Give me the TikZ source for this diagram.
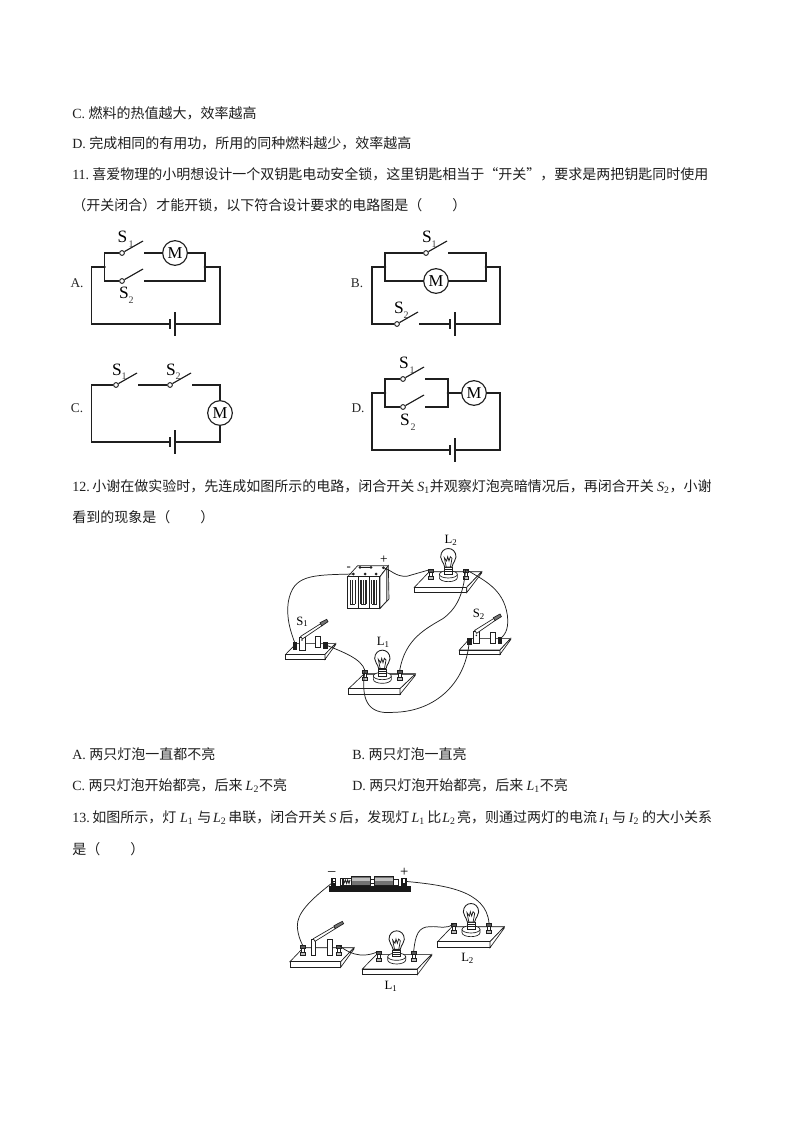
\documentclass[tikz,border=0pt]{standalone}
\usepackage{fontspec}
\setmainfont{Noto Sans CJK SC}
\newfontfamily\lat{Liberation Serif}
\newcommand{\la}[1]{{\lat #1}}
\newcommand{\iv}[2]{{\lat\itshape #1\textsubscript{\upshape #2}}}
\newcommand{\fb}[2]{\makebox[#1pt][c]{#2}}
\newcommand{\fl}[2]{\makebox[#1pt][l]{#2}}
\tikzset{
  x=.75pt,y=-.75pt,
  txt/.style={anchor=base west,inner sep=0pt,font=\fontsize{10.5pt}{12pt}\selectfont,text=black!88},
  wire/.style={line width=.85pt,black!88},
  thin wire/.style={line width=.55pt,black!88},
  motor/.style={circle,draw=black!88,line width=.85pt,minimum size=18.5pt,inner sep=0pt,fill=white,font=\lat\fontsize{12.5pt}{12pt}\selectfont},
  contact/.style={circle,draw=black!88,line width=.7pt,minimum size=3.6pt,inner sep=0pt,fill=white},
  dotj/.style={circle,fill=black!88,minimum size=2.2pt,inner sep=0pt},
  sym/.style={inner sep=0pt,font=\lat\fontsize{13pt}{13pt}\selectfont},
  symsub/.style={inner sep=0pt,font=\lat\fontsize{7.5pt}{8pt}\selectfont,text=black!75},
  opt/.style={inner sep=0pt,font=\lat\fontsize{10pt}{10pt}\selectfont,text=black!85},
  plab/.style={inner sep=0pt,font=\lat\fontsize{9.5pt}{10pt}\selectfont},
  pe/.style={line width=.5pt,black!88},
  pback/.style={line width=.9pt,black!65},
}
% switch symbol: name, x, y
\newcommand{\symsw}[3]{%
  \node[contact] (#1) at (#2,#3) {};
  \coordinate (#1-o) at ($(#1)+(22,0)$);
  \coordinate (#1-t) at ($(#1)+(21,-12)$);
  \draw[wire] (#1) -- (#1-t);
}
% battery symbol: name, x of short plate, y
\newcommand{\symbatt}[3]{%
  \coordinate (#1-l) at (#2,#3);
  \coordinate (#1-r) at ($(#2,#3)+(5,0)$);
  \draw[wire,line width=1.2pt] ($(#1-l)+(0,-5)$) -- ($(#1-l)+(0,5)$);
  \draw[wire] ($(#1-r)+(0,-12)$) -- ($(#1-r)+(0,12)$);
}
% board: front-left x, front y, width, dx, dy, height
\newcommand{\board}[6]{%
  \draw[pe,fill=white] (#1,#2) -- ++(#4,-#5) -- ++(#3,0) -- ++(-#4,#5) -- cycle;
  \draw[pe,fill=white] (#1,#2) rectangle ++(#3,#6);
  \draw[pe,fill=white] (#1,#2) ++(#3,0) -- ++(#4,-#5) -- ++(0,4) -- ++(-#4,#5+#6-4) -- cycle;
  \draw[pback] (#1,#2) ++(#4,-#5) -- ++(#3,0);
}
% post terminal: name, x, y (top centre)
\newcommand{\term}[3]{%
  \coordinate (#1) at (#2,#3);
  \draw[pe,fill=white] ($(#1)+(-5,3)$) rectangle ($(#1)+(5,30)$);
  \draw[pe,fill=black!65] ($(#1)+(-7,0)$) rectangle ($(#1)+(7,9)$);
  \draw[pe,fill=black!25] ($(#1)+(-8,21)$) rectangle ($(#1)+(8,30)$);
}
% bulb: centre x, y of glass
\newcommand{\bulb}[2]{%
  \begin{scope}[shift={(#1,#2)}]
    \draw[pe,fill=white] (-27,50) -- (-27,60) arc[start angle=180,end angle=360,x radius=6.75pt,y radius=3pt] -- (27,50);
    \draw[pe,fill=white] (0,50) ellipse [x radius=6.75pt,y radius=2.75pt];
    \draw[pe,fill=white] (-12,30) rectangle (12,50);
    \draw[line width=.65pt,black!88,fill=white] (-11,28) .. controls (-14,12) and (-23,10) .. (-23,-2) .. controls (-23,-36) and (23,-36) .. (23,-2) .. controls (23,10) and (14,12) .. (11,28) -- cycle;
    \draw[line width=.55pt,black!88] (-6,30) -- (-12,0) -- (-5,10) -- (-2,-3) -- (2,10) -- (6,-3) -- (11,2) -- (6,30);
    \draw[pe] (-11,36) -- (11,36) (-11,42) -- (11,42);
  \end{scope}
}
\usetikzlibrary{calc}
\begin{document}
\begin{tikzpicture}
\useasboundingbox[fill=white] (0,0) rectangle (794,1123);
% ---- text
\node[txt] (t1) at (72,119) {\la{C. }燃料的热值越大，效率越高};
\node[txt] (t2) at (72,149) {\la{D. }完成相同的有用功，所用的同种燃料越少，效率越高};
\node[txt] (t3) at (72,180) {\fl{15}{\la{11.}}喜爱物理的小明想设计一个双钥匙电动安全锁，这里钥匙相当于“开关”，要求是两把钥匙同时使用};
\node[txt] (t4) at (72,210) {（开关闭合）才能开锁，以下符合设计要求的电路图是（\hspace{22.5pt}）};
\node[txt] (t5) at (72,491) {\fl{15}{\la{12.}}小谢在做实验时，先连成如图所示的电路，闭合开关 \iv{S}{1}并观察灯泡亮暗情况后，再闭合开关 \iv{S}{2}，小谢};
\node[txt] (t6) at (72,522) {看到的现象是（\hspace{22.5pt}）};
\node[txt] (t7) at (72,759) {\la{A. }两只灯泡一直都不亮};
\node[txt] (t8) at (352,759) {\la{B. }两只灯泡一直亮};
\node[txt] (t9) at (72,790) {\la{C. }两只灯泡开始都亮，后来 \iv{L}{2}不亮};
\node[txt] (t10) at (352,790) {\la{D. }两只灯泡开始都亮，后来 \iv{L}{1}不亮};
\node[txt] (t11) at (72,822) {\fl{15}{\la{13.}}如图所示，灯\fb{15.75}{\iv{L}{1}}与\fb{12.75}{\iv{L}{2}}串联，闭合开关\fb{9.75}{{\lat\itshape S}}后，发现灯\fb{13.5}{\iv{L}{1}}比\fb{11.8}{\iv{L}{2}}亮，则通过两灯的电流\fb{11.25}{\iv{I}{1}}与\fb{12}{\iv{I}{2}}的大小关系};
\node[txt] (t12) at (72,854) {是（\hspace{22.5pt}）};

% ---- circuit A
\node[motor] (ma) at (175,253) {M};
\symsw{sa1}{122}{253}
\symsw{sa2}{122}{281}
\symbatt{ba}{170}{324}
\coordinate (a-jl) at (104.5,267); \coordinate (a-jr) at (205,267);
\coordinate (a-cl) at (91.5,267); \coordinate (a-cr) at (220,267);
\node[dotj] (a-dl) at (a-jl) {}; \node[dotj] (a-dr) at (a-jr) {};
\draw[wire] (sa1) -| (a-jl) |- (sa2);
\draw[wire] (sa1-o) -- (ma) -| (a-jr) |- (sa2-o);
\draw[wire] (a-jl) -- (a-cl) |- (ba-l);
\draw[wire] (a-jr) -- (a-cr) |- (ba-r);
\node[sym] (las1) at (122.5,237) {S}; \node[symsub] (las1s) at (131,244) {1};
\node[sym] (las2) at (124,293) {S}; \node[symsub] (las2s) at (131,300) {2};
\node[opt] (la) at (77,283) {A.};

% ---- circuit B
\node[motor] (mb) at (436,281) {M};
\symsw{sb1}{426}{253}
\symsw{sb2}{397}{324}
\symbatt{bb}{450}{324}
\coordinate (b-jl) at (385,267); \coordinate (b-jr) at (486,267);
\coordinate (b-cl) at (372,267); \coordinate (b-cr) at (500,267);
\node[dotj] (b-dl) at (b-jl) {}; \node[dotj] (b-dr) at (b-jr) {};
\draw[wire] (sb1) -| (b-jl) |- (mb);
\draw[wire] (sb1-o) -| (b-jr) |- (mb);
\draw[wire] (b-jl) -- (b-cl) |- (sb2);
\draw[wire] (sb2-o) -- (bb-l);
\draw[wire] (b-jr) -- (b-cr) |- (bb-r);
\node[sym] (lbs1) at (427,237) {S}; \node[symsub] (lbs1s) at (434,244) {1};
\node[sym] (lbs2) at (399,308) {S}; \node[symsub] (lbs2s) at (406,315) {2};
\node[opt] (lb) at (357,283) {B.};

% ---- circuit C
\node[motor] (mc) at (220,413) {M};
\symsw{sc1}{116}{385}
\symsw{sc2}{170}{385}
\symbatt{bc}{170}{442}
\coordinate (c-tl) at (91.5,385); \coordinate (c-tr) at (220,385);
\draw[wire] (sc1) -- (c-tl) |- (bc-l);
\draw[wire] (sc1-o) -- (sc2);
\draw[wire] (sc2-o) -- (c-tr) -- (mc);
\draw[wire] (mc) |- (bc-r);
\node[sym] (lcs1) at (117,370) {S}; \node[symsub] (lcs1s) at (124,376) {1};
\node[sym] (lcs2) at (171,370) {S}; \node[symsub] (lcs2s) at (178,376) {2};
\node[opt] (lc) at (77,408) {C.};

% ---- circuit D
\node[motor] (md) at (474,393) {M};
\symsw{sd1}{403}{379}
\symsw{sd2}{403}{407}
\symbatt{bd}{450}{450}
\coordinate (d-jl) at (385,393); \coordinate (d-jr) at (448,393);
\coordinate (d-cl) at (372,393); \coordinate (d-cr) at (500,393);
\node[dotj] (d-dl) at (d-jl) {}; \node[dotj] (d-dr) at (d-jr) {};
\draw[wire] (sd1) -| (d-jl) |- (sd2);
\draw[wire] (sd1-o) -| (d-jr) |- (sd2-o);
\draw[wire] (d-jr) -- (md) -- (d-cr) |- (bd-r);
\draw[wire] (d-jl) -- (d-cl) |- (bd-l);
\node[sym] (lds1) at (404,363) {S}; \node[symsub] (lds1s) at (412,370) {1};
\node[sym] (lds2) at (405,420) {S}; \node[symsub] (lds2s) at (413,427) {2};
\node[opt] (ld) at (358,408) {D.};

% ---- pictorial, question 12 (units: zoomed pixels)
\begin{scope}[shift={(270,525)},x=.25pt,y=-.25pt]
  % boards
  \board{433}{187}{157}{45}{47}{16}
  \board{236}{491}{154}{46}{44}{17}
  \board{47}{388}{118}{32}{33}{15}
  \board{568}{375}{122}{32}{35}{13}
  % battery
  \draw[pe,fill=white] (233,155) -- (263,122) -- (355,122) -- (330,155) -- cycle;
  \draw[pe,fill=black!15] (330,155) -- (355,122) -- (357,222) -- (330,250) -- cycle;
  \draw[pe,fill=white] (330,155) -- (350,129) -- (350,228) -- (330,250) -- cycle;
  \foreach \cx in {233,265,297}{
    \draw[line width=.7pt,black!88,fill=white] (\cx,155) rectangle ++(32,95);
    \foreach \sx in {8,15,23}{
      \draw[line width=1pt,black!85] (\cx+\sx,165) -- (\cx+\sx,238);
    }
    \draw[line width=1pt,black!85] (\cx+8,238) -- (\cx+23,238);
  }
  \draw[line width=1.2pt,black!88] (270,127) -- (303,127);
  \foreach \p in {(250,147),(270,127),(303,127),(285,147),(318,147),(340,128)}{\fill[black!88] \p circle (4.5);}
  \coordinate (batm) at (250,147); \coordinate (batp) at (340,128);
  \node[plab] (mn) at (236,132) {-};
  \node[plab,font=\lat\fontsize{10pt}{10pt}\selectfont] (pl) at (342,105) {+};
  % L2
  \term{l2a}{483}{133}
  \term{l2b}{587}{133}
  \bulb{535}{98}
  \node[plab] (ll2) at (543,45) {L\textsubscript{2}};
  % L1
  \term{l1a}{285}{437}
  \term{l1b}{389}{437}
  \bulb{337}{403}
  \node[plab] (ll1) at (340,351) {L\textsubscript{1}};
  % S1
  \fill[black!88] (68,352) rectangle (82,376);
  \fill[black!88] (160,350) rectangle (174,372);
  \coordinate (s1a) at (75,355); \coordinate (s1b) at (168,360);
  \draw[pe,fill=white] (137,335) rectangle (152,366);
  \draw[pe,fill=white] (87,338) rectangle (105,375);
  \fill[black!88] (96,345) circle (2.5);
  \draw[pe,fill=white] (92,334) -- (152,296) -- (156,302) -- (97,342) -- cycle;
  \draw[pe,fill=black!55] (150,293) -- (170,283) -- (174,290) -- (155,303) -- cycle;
  \node[plab] (ls1) at (97,290) {S\textsubscript{1}};
  % S2
  \fill[black!88] (591,340) rectangle (605,360);
  \fill[black!88] (683,336) rectangle (697,358);
  \coordinate (s2a) at (598,345); \coordinate (s2b) at (692,340);
  \draw[pe,fill=white] (661,322) rectangle (675,355);
  \draw[pe,fill=white] (610,320) rectangle (628,356);
  \fill[black!88] (619,331) circle (2.5);
  \draw[pe,fill=white] (614,316) -- (672,280) -- (676,286) -- (620,325) -- cycle;
  \draw[pe,fill=black!55] (670,278) -- (690,267) -- (694,275) -- (675,287) -- cycle;
  \node[plab] (ls2) at (627,267) {S\textsubscript{2}};
  % wires
  \draw[thin wire] (batm) .. controls (120,150) and (70,150) .. (55,230) .. controls (48,280) and (62,320) .. (s1a);
  \draw[thin wire] (batp) .. controls (365,135) and (375,155) .. (410,154) -- (l2a);
  \draw[thin wire] (s1b) .. controls (215,380) and (275,400) .. (l1a);
  \draw[thin wire] (l1b) .. controls (405,340) and (470,310) .. (520,280) .. controls (560,250) and (580,210) .. (l2b);
  \draw[thin wire] (l1a) .. controls (272,520) and (290,570) .. (370,562) .. controls (500,560) and (590,470) .. (s2a);
  \draw[thin wire] (l2b) .. controls (640,165) and (700,190) .. (712,270) .. controls (716,305) and (710,325) .. (s2b);
\end{scope}

% ---- pictorial, question 13
\begin{scope}[shift={(270,860)},x=.25pt,y=-.25pt]
  \board{503}{245}{157}{43}{45}{18}
  \board{277}{327}{165}{43}{44}{17}
  \board{60}{305}{152}{40}{42}{17}
  % holder
  \fill[black!90] (178,77) rectangle (422,97);
  \fill[black!90] (183,53) rectangle (198,77);
  \fill[black!90] (393,53) rectangle (412,77);
  \fill[white] (188,58) rectangle (194,62);
  \fill[white] (188,66) rectangle (194,70);
  \fill[white] (398,58) rectangle (406,70);
  \draw[pe,fill=white] (212,55) rectangle (218,77);
  \draw[pe,fill=white] (220,55) rectangle (243,77);
  \draw[line width=.7pt,black!88] (222,70) -- (226,60) -- (230,70) -- (233,60) -- (237,70) -- (240,60);
  \draw[pe,fill=black!55] (243,50) rectangle (302,77);
  \draw[pe,fill=black!55] (313,50) rectangle (370,77);
  \fill[black!25] (245,55) rectangle (300,62);
  \fill[black!25] (315,55) rectangle (368,62);
  \draw[pe,fill=white] (302,58) rectangle (313,70);
  \draw[pe,fill=white] (370,58) rectangle (385,77);
  \node[plab,font=\lat\fontsize{11pt}{11pt}\selectfont] (mn2) at (185,41) {–};
  \node[plab,font=\lat\fontsize{11pt}{11pt}\selectfont] (pl2) at (403,37) {+};
  \coordinate (hm) at (190,66); \coordinate (hp) at (406,64);
  % L2
  \term{ql2a}{552}{190}
  \term{ql2b}{657}{190}
  \bulb{603}{158}
  \node[plab] (qll2) at (593,295) {L\textsubscript{2}};
  % L1
  \term{ql1a}{326}{274}
  \term{ql1b}{431}{274}
  \bulb{380}{240}
  \node[plab] (qll1) at (363,378) {L\textsubscript{1}};
  % switch
  \term{qsa}{98}{256}
  \term{qsb}{207}{256}
  \draw[pe,fill=white] (123,238) rectangle (137,287);
  \draw[pe,fill=white] (172,238) rectangle (187,287);
  \draw[pe,fill=white] (130,236) -- (192,200) -- (196,206) -- (135,244) -- cycle;
  \draw[pe,fill=black!55] (192,197) -- (217,184) -- (221,191) -- (196,206) -- cycle;
  % wires
  \draw[thin wire] (hm) .. controls (120,120) and (80,160) .. (82,200) .. controls (84,225) and (90,240) .. (qsa);
  \draw[thin wire] (hp) .. controls (520,75) and (650,90) .. (ql2b);
  \draw[thin wire] (qsb) .. controls (230,275) and (270,300) .. (ql1a);
  \draw[thin wire] (ql1b) .. controls (436,225) and (445,200) .. (480,200) .. controls (510,198) and (530,210) .. (ql2a);
\end{scope}
\end{tikzpicture}
\end{document}
